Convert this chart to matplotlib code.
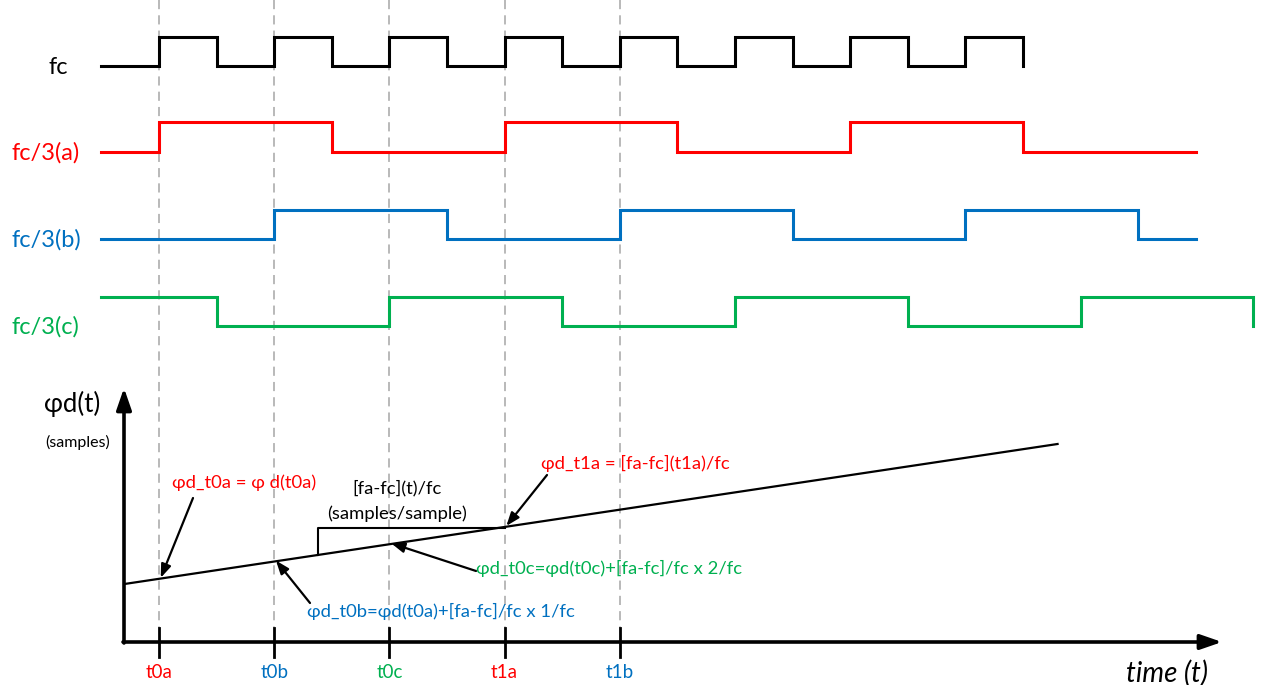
import matplotlib
matplotlib.use("Agg")
import matplotlib.pyplot as plt

plt.rcParams['font.family'] = ['Lato', 'Noto Sans', 'DejaVu Sans']

################################################################################
# data: edge times of each clock, in half periods of fc (t0a = 0)
fc_edges = [0, 1, 2, 3, 4, 5, 6, 7, 8, 9, 10, 11, 12, 13, 14, 15]
a_edges = [0, 3, 6, 9, 12, 15]
b_edges = [2, 5, 8, 11, 14, 17]
c_edges = [1, 4, 7, 10, 13, 16, 19]
starts = {"fc": 0, "a": 0, "b": 0, "c": 1}
spans = {"fc": (-1, 15), "a": (-1, 18), "b": (-1, 18), "c": (-1, 19)}

tick_names = ["t0a", "t0b", "t0c", "t1a", "t1b"]
tick_times = [0, 2, 4, 6, 8]

# phase ramp phi_d(t) (time, height on chart)
ramp_t = [-0.6, 15.6]
ramp_y = [584, 444]

RED, BLUE, GREEN = "#ff0000", "#0070c0", "#00b050"
tick_colors = [RED, BLUE, GREEN, RED, BLUE]

################################################################################
PX = 57.6      # pixels per half period
X0 = 159.0     # pixel of t = 0


def tx(px):
    return (px - X0) / PX


def square(edges, lvl, t0, t1):
    xs, ys = [t0], [lvl]
    for e in edges:
        xs.append(e); ys.append(lvl)
        lvl = 1 - lvl
        xs.append(e); ys.append(lvl)
    xs.append(t1); ys.append(lvl)
    return xs, ys


def ramp_at(t):
    return ramp_y[0] + (ramp_y[1] - ramp_y[0]) * (t - ramp_t[0]) / (ramp_t[1] - ramp_t[0])


fig = plt.figure(figsize=(12.62, 6.85), dpi=100)
ax = fig.add_axes([0, 0, 1, 1])
ax.set_xlim(tx(0), tx(1262))
ax.set_ylim(685, 0)
ax.axis("off")

# dashed reference lines
for t in tick_times:
    ax.plot([t, t], [0, 628], color="#a6a6a6", lw=1.1, dashes=(6, 4), zorder=1)

# clock waveforms
rows = [("fc", fc_edges, "black", 37, 66, 58, "fc"),
        ("a", a_edges, RED, 122, 152, 46, "fc/3(a)"),
        ("b", b_edges, BLUE, 210, 239, 46, "fc/3(b)"),
        ("c", c_edges, GREEN, 297, 326, 45, "fc/3(c)")]
for key, edges, col, hi, lo, lx, label in rows:
    xs, ys = square(edges, starts[key], *spans[key])
    ax.plot(xs, [lo + (hi - lo) * v for v in ys], color=col, lw=2.2,
            solid_joinstyle="miter", zorder=3)
    ax.text(tx(lx), lo + 1, label, color=col, fontsize=17, ha="center", va="center")

# axes of the phase plot
ax.annotate("", xy=(tx(124), 388), xytext=(tx(124), 643),
            arrowprops=dict(arrowstyle="-|>,head_length=1.3,head_width=0.45",
                            lw=2.6, color="black", shrinkA=0, shrinkB=0))
ax.annotate("", xy=(tx(1222), 642), xytext=(tx(123), 642),
            arrowprops=dict(arrowstyle="-|>,head_length=1.3,head_width=0.45",
                            lw=2.6, color="black", shrinkA=0, shrinkB=0))
for name, t, col in zip(tick_names, tick_times, tick_colors):
    ax.plot([t, t], [628, 657], color="black", lw=2, zorder=4)
    ax.text(t, 673, name, color=col, fontsize=13.5, ha="center", va="center")
ax.text(tx(1167), 673, "time (t)", fontsize=20, style="italic", ha="center", va="center")
ax.text(tx(72), 404, "φd(t)", fontsize=18.5, ha="center", va="center")
ax.text(tx(78), 442, "(samples)", fontsize=11.5, ha="center", va="center")

# ramp and step
ax.plot(ramp_t, ramp_y, color="black", lw=1.6, zorder=4)
ts = tx(318)
ax.plot([ts, ts, tick_times[3]], [ramp_at(ts), 528, 528], color="black", lw=1.5, zorder=4)
ax.text(tx(397), 488, "[fa-fc](t)/fc", fontsize=13.3, ha="center", va="center")
ax.text(tx(397), 514, "(samples/sample)", fontsize=13.3, ha="center", va="center")

# annotations
arw = dict(arrowstyle="-|>,head_length=0.8,head_width=0.3", lw=1.6, color="black",
           shrinkA=0, shrinkB=0)
notes = [("φd_t0a = φ d(t0a)", RED, (244, 483), (193, 498), tick_times[0]),
         ("φd_t0b=φd(t0a)+[fa-fc]/fc x 1/fc", BLUE, (441, 611), (310, 603), tick_times[1]),
         ("φd_t0c=φd(t0c)+[fa-fc]/fc x 2/fc", GREEN, (609, 568), (476, 571), tick_times[2]),
         ("φd_t1a = [fa-fc](t1a)/fc", RED, (635, 463), (547, 475), tick_times[3])]
for text, col, (px, py), (sx, sy), t in notes:
    ax.text(tx(px), py, text, color=col, fontsize=13.3, ha="center", va="center")
    ax.annotate("", xy=(t + 0.03, ramp_at(t) - 1), xytext=(tx(sx), sy), arrowprops=arw)

fig.savefig("out.png", dpi=100)
